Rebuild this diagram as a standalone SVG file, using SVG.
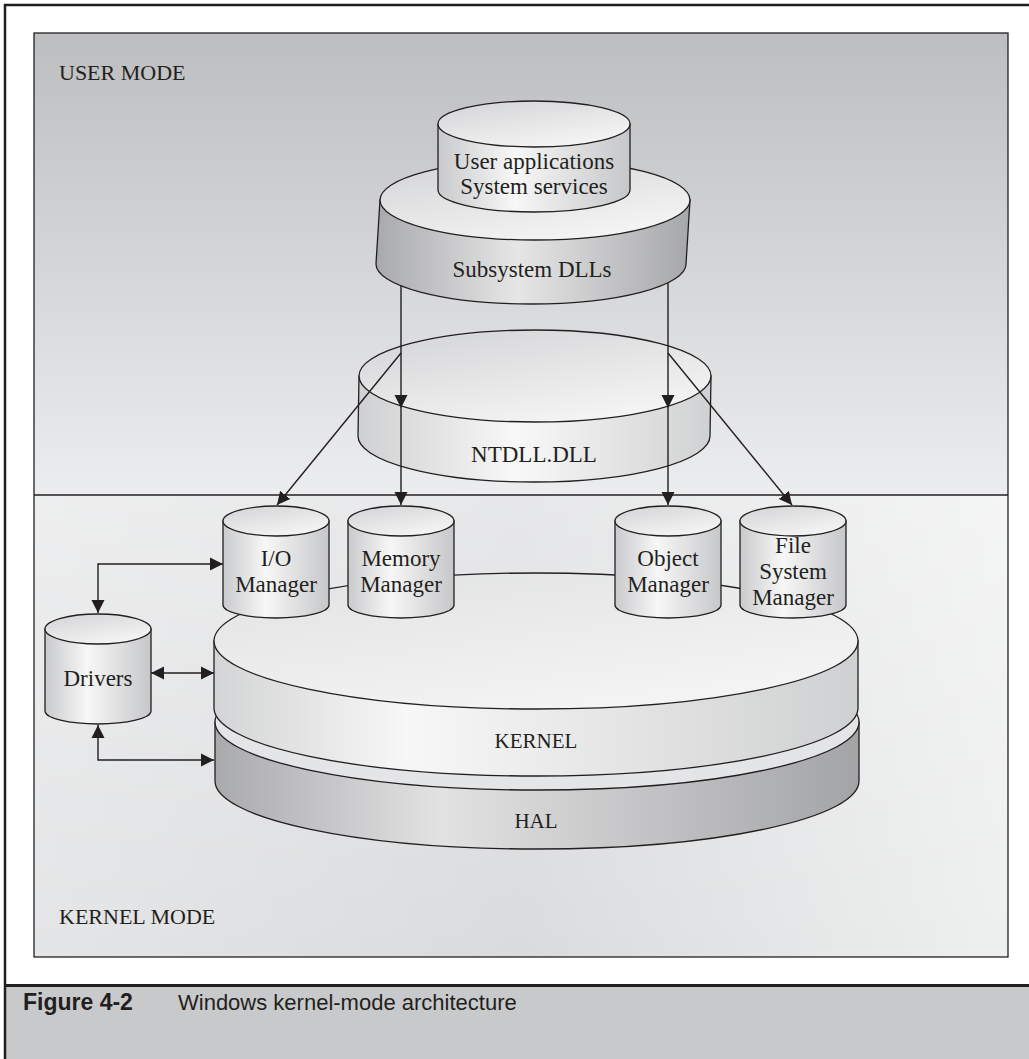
<svg xmlns="http://www.w3.org/2000/svg" width="1029" height="1059" viewBox="0 0 1029 1059">
<defs>
<style>
.ln{stroke:#231f20;stroke-width:1.3;fill:none}
.ol{stroke:#231f20;stroke-width:1.3}
.t{font-family:"Liberation Serif","Times New Roman",serif;font-size:23px;fill:#231f20;text-anchor:middle}
.m{font-family:"Liberation Serif","Times New Roman",serif;font-size:22px;fill:#231f20}
.arr{stroke:#231f20;stroke-width:1.4;fill:none;marker-end:url(#ah)}
.dbl{stroke:#231f20;stroke-width:1.4;fill:none;marker-start:url(#ah);marker-end:url(#ah)}
</style>
<marker id="ah" markerUnits="userSpaceOnUse" markerWidth="15" markerHeight="15" refX="13" refY="7" orient="auto-start-reverse"><path d="M0,0.5 L13,7 L0,13.5 Z" fill="#231f20"/></marker>
<linearGradient id="gUser" x1="0" y1="0" x2="0" y2="1"><stop offset="0" stop-color="#bdbec0"/><stop offset="1" stop-color="#ecedee"/></linearGradient>
<linearGradient id="gKer" x1="0" y1="0" x2="1" y2="0"><stop offset="0" stop-color="#e4e5e6"/><stop offset="0.5" stop-color="#dadbdd"/><stop offset="1" stop-color="#eeefef"/></linearGradient>
<linearGradient id="gKerV" x1="0" y1="0" x2="0" y2="1"><stop offset="0" stop-color="#ffffff" stop-opacity="0.35"/><stop offset="1" stop-color="#ffffff" stop-opacity="0"/></linearGradient>
<linearGradient id="wLight" x1="0" y1="0" x2="1" y2="0"><stop offset="0" stop-color="#c9cacc"/><stop offset="0.4" stop-color="#f7f7f7"/><stop offset="1" stop-color="#c6c7c9"/></linearGradient>
<linearGradient id="wDark" x1="0" y1="0" x2="1" y2="0"><stop offset="0" stop-color="#a8a9ab"/><stop offset="0.45" stop-color="#e6e6e7"/><stop offset="1" stop-color="#a6a7a9"/></linearGradient>
<linearGradient id="wNt" x1="0" y1="0" x2="1" y2="0"><stop offset="0" stop-color="#cfd0d1"/><stop offset="0.45" stop-color="#f8f8f8"/><stop offset="1" stop-color="#d0d1d2"/></linearGradient>
<linearGradient id="wKer" x1="0" y1="0" x2="1" y2="0"><stop offset="0" stop-color="#d3d4d5"/><stop offset="0.3" stop-color="#f7f7f7"/><stop offset="1" stop-color="#cfd0d1"/></linearGradient>
<linearGradient id="wHal" x1="0" y1="0" x2="1" y2="0"><stop offset="0" stop-color="#a9aaac"/><stop offset="0.35" stop-color="#e2e2e3"/><stop offset="1" stop-color="#a3a4a6"/></linearGradient>
<linearGradient id="top" x1="0" y1="0" x2="0.6" y2="1"><stop offset="0" stop-color="#d2d3d5"/><stop offset="1" stop-color="#f4f4f4"/></linearGradient>
<linearGradient id="topK" x1="0" y1="0" x2="0.6" y2="1"><stop offset="0" stop-color="#e1e2e3"/><stop offset="1" stop-color="#f4f4f4"/></linearGradient>
</defs>

<g id="frame">
<rect x="0" y="0" width="1029" height="1059" fill="#ffffff"/>
<rect x="5" y="985" width="1024" height="74" fill="#c8c9cb"/>
<line x1="4" y1="5" x2="1029" y2="5" stroke="#231f20" stroke-width="2.5"/>
<line x1="5" y1="4" x2="5" y2="1059" stroke="#231f20" stroke-width="2.5"/>
<line x1="5" y1="985.5" x2="1029" y2="985.5" stroke="#231f20" stroke-width="3"/>
<rect x="34" y="33" width="974" height="462" fill="url(#gUser)"/>
<rect x="34" y="495" width="974" height="462" fill="url(#gKer)"/>
<rect x="34" y="495" width="974" height="462" fill="url(#gKerV)"/>
<rect x="34" y="33" width="974" height="924" fill="none" stroke="#231f20" stroke-width="1.3"/>
<line x1="34" y1="495" x2="1008" y2="495" stroke="#231f20" stroke-width="1.3"/>
<text class="m" x="59" y="80">USER MODE</text>
<text class="m" x="59" y="924">KERNEL MODE</text>
</g>

<g id="kernel-hal">
<path d="M215,722 L215,781 A322,68 0 0 0 859,781 L859,722 Z" fill="url(#wHal)" class="ol"/>
<ellipse cx="537" cy="722" rx="322" ry="68" fill="#e4e5e6" class="ol"/>
<path d="M214,641 L214,708 A322,68 0 0 0 858,708 L858,641 Z" fill="url(#wKer)" class="ol"/>
<ellipse cx="536" cy="641" rx="322" ry="68" fill="url(#topK)" class="ol"/>
<text class="t" x="536" y="748" style="font-size:21px">KERNEL</text>
<text class="t" x="536" y="828" style="font-size:21px">HAL</text>
</g>

<g id="io-manager">
<path d="M223,521 L223,605 A53,13 0 0 0 329,605 L329,521 Z" fill="url(#wLight)" class="ol"/>
<ellipse cx="276" cy="521" rx="53" ry="15" fill="url(#top)" class="ol"/>
<text class="t" x="276" y="566">I/O</text>
<text class="t" x="276" y="592">Manager</text>
</g>
<g id="memory-manager">
<path d="M348,521 L348,605 A53,13 0 0 0 454,605 L454,521 Z" fill="url(#wLight)" class="ol"/>
<ellipse cx="401" cy="521" rx="53" ry="15" fill="url(#top)" class="ol"/>
<text class="t" x="401" y="566">Memory</text>
<text class="t" x="401" y="592">Manager</text>
</g>
<g id="object-manager">
<path d="M615,521 L615,605 A53,13 0 0 0 721,605 L721,521 Z" fill="url(#wLight)" class="ol"/>
<ellipse cx="668" cy="521" rx="53" ry="15" fill="url(#top)" class="ol"/>
<text class="t" x="668" y="566">Object</text>
<text class="t" x="668" y="592">Manager</text>
</g>
<g id="fs-manager">
<path d="M740,521 L740,605 A53,13 0 0 0 846,605 L846,521 Z" fill="url(#wLight)" class="ol"/>
<ellipse cx="793" cy="521" rx="53" ry="15" fill="url(#top)" class="ol"/>
<text class="t" x="793" y="553">File</text>
<text class="t" x="793" y="579">System</text>
<text class="t" x="793" y="605">Manager</text>
</g>
<g id="drivers">
<path d="M45,629 L45,711 A53,13 0 0 0 151,711 L151,629 Z" fill="url(#wLight)" class="ol"/>
<ellipse cx="98" cy="629" rx="53" ry="15" fill="url(#top)" class="ol"/>
<text class="t" x="98" y="686">Drivers</text>
</g>

<g id="ntdll">
<path d="M359,376 L358,436 A176,46 0 0 0 710,436 L711,376 Z" fill="url(#wNt)" class="ol"/>
<ellipse cx="535" cy="376" rx="176" ry="46" fill="url(#top)" class="ol"/>
<text class="t" x="534" y="462">NTDLL.DLL</text>
</g>

<g id="subsystem-dlls">
<path d="M380,200 L376,264 A155,40 0 0 0 686,264 L690,200 Z" fill="url(#wDark)" class="ol"/>
<ellipse cx="535" cy="200" rx="155" ry="40" fill="url(#top)" class="ol"/>
<text class="t" x="532" y="277">Subsystem DLLs</text>
</g>

<g id="user-apps">
<path d="M438,124 L438,190 A96,22 0 0 0 630,190 L630,124 Z" fill="url(#wLight)" class="ol"/>
<ellipse cx="534" cy="124" rx="96" ry="23" fill="url(#top)" class="ol"/>
<text class="t" x="534" y="169">User applications</text>
<text class="t" x="534" y="194">System services</text>
</g>

<g id="connectors">
<path class="arr" d="M401,286 L401,408"/>
<path class="arr" d="M401,408 L401,505"/>
<path class="arr" d="M668,283 L668,408"/>
<path class="arr" d="M668,408 L668,505"/>
<path class="arr" d="M401,353 L277,505"/>
<path class="arr" d="M668,353 L792,505"/>
<path class="dbl" d="M223,564 L98,564 L98,613"/>
<path class="dbl" d="M151,673 L214,673"/>
<path class="dbl" d="M98,725 L98,760 L214,760"/>
</g>

<g id="caption">
<text x="23" y="1010" style="font-family:'Liberation Sans',Arial,sans-serif;font-size:23px;font-weight:bold;fill:#231f20">Figure 4-2</text>
<text x="178" y="1010" style="font-family:'Liberation Sans',Arial,sans-serif;font-size:22px;fill:#231f20">Windows kernel-mode architecture</text>
</g>
</svg>
